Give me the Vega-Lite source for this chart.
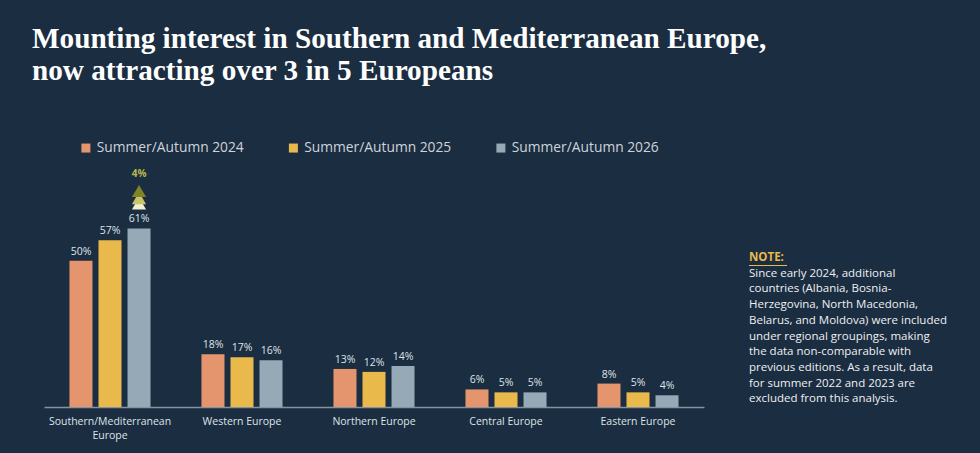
{
  "$schema": "https://vega.github.io/schema/vega-lite/v6.json",
  "background": "#1b2d41",
  "padding": {"left": 32, "top": 24, "right": 5, "bottom": 14},
  "title": {
    "text": ["Mounting interest in Southern and Mediterranean Europe,", "now attracting over 3 in 5 Europeans"],
    "anchor": "start",
    "font": "Liberation Serif",
    "fontSize": 29.2,
    "fontWeight": "bold",
    "color": "#ffffff",
    "lineHeight": 32,
    "dx": -12,
    "offset": 55
  },
  "config": {"view": {"stroke": null}, "font": "Open Sans"},
  "spacing": 44,
  "datasets": {
    "bars": [
      {"region": "Southern/Mediterranean Europe", "year": "Summer/Autumn 2024", "value": 50, "label": "50%"},
      {"region": "Southern/Mediterranean Europe", "year": "Summer/Autumn 2025", "value": 57, "label": "57%"},
      {"region": "Southern/Mediterranean Europe", "year": "Summer/Autumn 2026", "value": 61, "label": "61%"},
      {"region": "Western Europe", "year": "Summer/Autumn 2024", "value": 18, "label": "18%"},
      {"region": "Western Europe", "year": "Summer/Autumn 2025", "value": 17, "label": "17%"},
      {"region": "Western Europe", "year": "Summer/Autumn 2026", "value": 16, "label": "16%"},
      {"region": "Northern Europe", "year": "Summer/Autumn 2024", "value": 13, "label": "13%"},
      {"region": "Northern Europe", "year": "Summer/Autumn 2025", "value": 12, "label": "12%"},
      {"region": "Northern Europe", "year": "Summer/Autumn 2026", "value": 14, "label": "14%"},
      {"region": "Central Europe", "year": "Summer/Autumn 2024", "value": 6, "label": "6%"},
      {"region": "Central Europe", "year": "Summer/Autumn 2025", "value": 5, "label": "5%"},
      {"region": "Central Europe", "year": "Summer/Autumn 2026", "value": 5, "label": "5%"},
      {"region": "Eastern Europe", "year": "Summer/Autumn 2024", "value": 8, "label": "8%"},
      {"region": "Eastern Europe", "year": "Summer/Autumn 2025", "value": 5, "label": "5%"},
      {"region": "Eastern Europe", "year": "Summer/Autumn 2026", "value": 4, "label": "4%"}
    ],
    "change": [
      {"region": "Southern/Mediterranean Europe", "year": "Summer/Autumn 2026", "value": 79.6, "label": "4%"}
    ],
    "arrow": [
      {"region": "Southern/Mediterranean Europe", "year": "Summer/Autumn 2026", "value": 69.6, "part": "base"},
      {"region": "Southern/Mediterranean Europe", "year": "Summer/Autumn 2026", "value": 71.4, "part": "middle"},
      {"region": "Southern/Mediterranean Europe", "year": "Summer/Autumn 2026", "value": 73.8, "part": "tip"}
    ],
    "note": [
      {"row": 0, "text": "NOTE:"},
      {"row": 1, "text": "Since early 2024, additional"},
      {"row": 2, "text": "countries (Albania, Bosnia-"},
      {"row": 3, "text": "Herzegovina, North Macedonia,"},
      {"row": 4, "text": "Belarus, and Moldova) were included"},
      {"row": 5, "text": "under regional groupings, making"},
      {"row": 6, "text": "the data non-comparable with"},
      {"row": 7, "text": "previous editions. As a result, data"},
      {"row": 8, "text": "for summer 2022 and 2023 are"},
      {"row": 9, "text": "excluded from this analysis."}
    ]
  },
  "hconcat": [
    {
      "width": 660,
      "height": 240,
      "encoding": {
        "x": {
          "field": "region",
          "type": "nominal",
          "sort": ["Southern/Mediterranean Europe", "Western Europe", "Northern Europe", "Central Europe", "Eastern Europe"],
          "scale": {"paddingInner": 0.386, "paddingOuter": 0.193},
          "axis": {
            "title": null,
            "labelAngle": 0,
            "ticks": false,
            "labelPadding": 9,
            "labelColor": "#dfe3e7",
            "labelFont": "Open Sans",
            "labelFontSize": 10.5,
            "labelLineHeight": 14,
            "domainColor": "#8593a0",
            "domainWidth": 1.5,
            "labelExpr": "datum.value == 'Southern/Mediterranean Europe' ? ['Southern/Mediterranean', 'Europe'] : datum.value"
          }
        },
        "xOffset": {
          "field": "year",
          "type": "nominal",
          "scale": {"paddingInner": 0.207, "paddingOuter": 0}
        },
        "y": {
          "field": "value",
          "type": "quantitative",
          "scale": {"domain": [0, 82]},
          "axis": null
        }
      },
      "layer": [
        {
          "data": {"name": "bars"},
          "mark": {"type": "bar"},
          "encoding": {
            "color": {
              "field": "year",
              "type": "nominal",
              "scale": {"range": ["#e5956e", "#e9b94c", "#95aab6"]},
              "legend": {
                "title": null,
                "orient": "none",
                "legendX": 35,
                "legendY": -26,
                "direction": "horizontal",
                "symbolType": "square",
                "symbolSize": 81,
                "symbolStrokeWidth": 0,
                "labelColor": "#cfd4da",
                "labelFont": "Open Sans",
                "labelFontSize": 13.8,
                "labelOffset": 4,
                "columnPadding": 42.5
              }
            }
          }
        },
        {
          "data": {"name": "bars"},
          "mark": {"type": "text", "baseline": "bottom", "dy": -4, "color": "#dfe3e7", "font": "Open Sans", "fontSize": 10.5},
          "encoding": {"text": {"field": "label"}}
        },
        {
          "data": {"name": "arrow"},
          "mark": {"type": "point", "shape": "triangle-up", "filled": true, "size": 200, "opacity": 1},
          "encoding": {
            "fill": {
              "field": "part",
              "type": "nominal",
              "scale": {"domain": ["base", "middle", "tip"], "range": ["#f1efcf", "#c9c56c", "#7f8526"]},
              "legend": null
            }
          }
        },
        {
          "data": {"name": "change"},
          "mark": {"type": "text", "baseline": "middle", "color": "#b9b84e", "font": "Open Sans", "fontSize": 10, "fontWeight": "bold"},
          "encoding": {"text": {"field": "label"}}
        }
      ]
    },
    {
      "width": 232,
      "height": 240,
      "data": {"name": "note"},
      "encoding": {
        "x": {"datum": 0, "type": "quantitative", "scale": {"domain": [0, 232]}, "axis": null},
        "y": {"field": "row", "type": "quantitative", "scale": {"domain": [-5.796, 9.49], "reverse": true}, "axis": null}
      },
      "layer": [
        {
          "transform": [{"filter": "datum.row == 0"}],
          "mark": {"type": "text", "align": "left", "baseline": "middle", "font": "Open Sans", "fontSize": 11.5, "fontWeight": "bold", "color": "#e9b94c"},
          "encoding": {"text": {"field": "text"}}
        },
        {
          "transform": [{"filter": "datum.row == 0"}],
          "mark": {"type": "rule", "color": "#e9b94c", "strokeWidth": 1, "yOffset": 7.5},
          "encoding": {"x2": {"datum": 38}}
        },
        {
          "transform": [{"filter": "datum.row > 0"}],
          "mark": {"type": "text", "align": "left", "baseline": "middle", "font": "Open Sans", "fontSize": 11.5, "color": "#eef0f2"},
          "encoding": {"text": {"field": "text"}}
        }
      ]
    }
  ]
}
